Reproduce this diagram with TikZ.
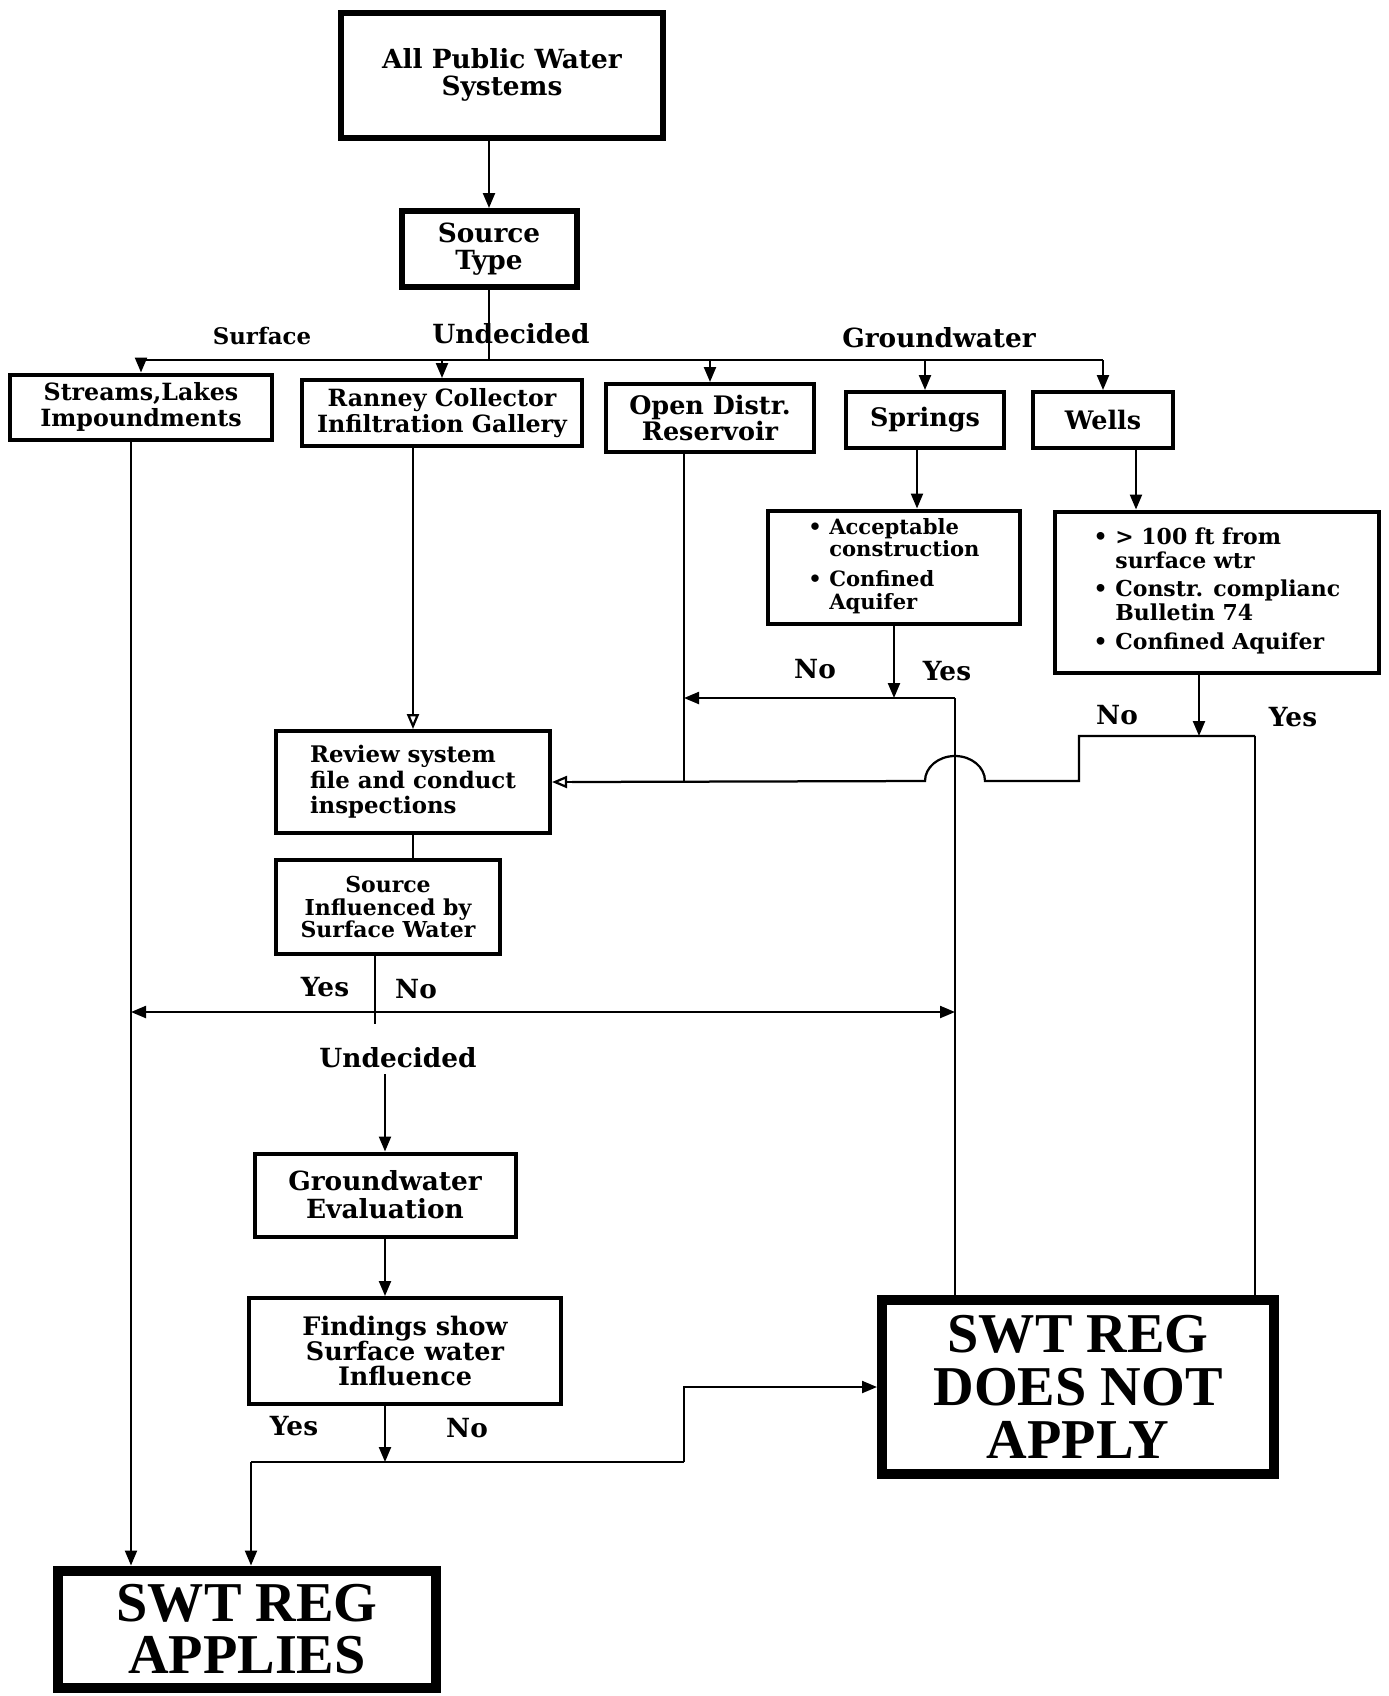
\documentclass[tikz,border=0pt]{standalone}
\usepackage{fontspec}
\setmainfont{DejaVu Serif}
\newfontfamily\regfont{Liberation Serif}
\usetikzlibrary{arrows.meta, positioning, calc}

\begin{document}
\begin{tikzpicture}[
    x=0.2mm, y=-0.2mm,
    % Plain decision box style
    box/.style={
        rectangle,
        draw=black,
        line width=0.8mm,
        fill=white,
        align=center,
        inner sep=2pt,
        font=\bfseries\fontsize{13.5}{14.5}\selectfont
    },
    % Heavier box style
    thickbox/.style={
        box,
        line width=1.2mm,
        font=\bfseries\fontsize{15}{15}\selectfont
    },
    % Outcome box style
    endbox/.style={
        rectangle,
        draw=black,
        line width=2mm,
        align=center,
        font=\regfont\bfseries\fontsize{32}{30}\selectfont
    },
    % Connector styles
    line/.style={
        line width=0.45mm,
        black
    },
    arrow/.style={
        line,
        -{Triangle[length=3mm, width=2.4mm]}
    },
    openarrow/.style={
        line,
        -{Triangle[open, length=3mm, width=2.4mm]}
    },
    % Branch label style
    lbl/.style={
        font=\bfseries\fontsize{15}{17}\selectfont
    }
]

\useasboundingbox[fill=white] (0,0) rectangle (1388,1696);

% === Top of the chart ===
\node[thickbox, minimum width=64.4mm, minimum height=25mm] (pws) at (502, 75) {All Public Water\\Systems};
\node[thickbox, minimum width=35mm, minimum height=15.2mm] (src) at (489, 249) {Source\\Type};

% === Source types ===
\node[box, minimum width=52.2mm, minimum height=13mm] (streams) at (141, 407) {Streams,Lakes\\Impoundments};
\node[box, minimum width=56mm, minimum height=13.2mm] (ranney) at (442, 413) {Ranney Collector\\Infiltration Gallery};
\node[box, minimum width=41.6mm, minimum height=13.6mm, font=\bfseries\fontsize{14.5}{14}\selectfont] (open) at (710, 418) {Open Distr.\\Reservoir};
\node[box, minimum width=31.6mm, minimum height=11.2mm, font=\bfseries\fontsize{14.5}{14}\selectfont] (springs) at (925, 420) {Springs};
\node[box, minimum width=28mm, minimum height=11.2mm, font=\bfseries\fontsize{14.5}{14}\selectfont] (wells) at (1103, 420) {Wells};

% === Groundwater criteria ===
\node[box, minimum width=50.4mm, minimum height=22.6mm, align=left, font=\bfseries\fontsize{12}{12.5}\selectfont] (spcrit) at (894, 567) {%
    \begin{tabular}{@{}l@{\ }l@{}}
    • & Acceptable\\ & construction\\[4pt]
    • & Confined\\ & Aquifer
    \end{tabular}};
\node[box, minimum width=64.8mm, minimum height=32.2mm, align=left, font=\bfseries\fontsize{12.5}{13}\selectfont] (wecrit) at (1217, 592) {%
    \begin{tabular}{@{}l@{\ }l@{}}
    • & > 100 ft from\\ & surface wtr\\[3pt]
    • & Constr. complianc\\ & Bulletin 74\\[3pt]
    • & Confined Aquifer
    \end{tabular}};

% === Review and evaluation ===
\node[box, minimum width=54.8mm, minimum height=20.4mm, align=left, font=\bfseries\fontsize{13}{14.5}\selectfont] (review) at (413, 782) {Review system\\file and conduct\\inspections};
\node[box, minimum width=44.8mm, minimum height=18.8mm, font=\bfseries\fontsize{12.5}{13}\selectfont] (influ) at (388, 907) {Source\\Influenced by\\Surface Water};
\node[lbl] (undec) at (398, 1058) {Undecided};
\node[box, minimum width=52.2mm, minimum height=16.6mm, font=\bfseries\fontsize{15}{16}\selectfont] (gweval) at (385, 1195) {Groundwater\\Evaluation};
\node[box, minimum width=62.2mm, minimum height=21.2mm, font=\bfseries\fontsize{14.5}{14.5}\selectfont] (findings) at (405, 1351) {Findings show\\Surface water\\Influence};

% === Outcomes ===
\node[endbox, minimum width=78.4mm, minimum height=34.8mm] (notapply) at (1078, 1387) {SWT REG\\DOES NOT\\APPLY};
\node[endbox, minimum width=75.4mm, minimum height=23.4mm] (applies) at (247, 1629) {SWT REG\\APPLIES};

% === Junction points ===
\coordinate (split) at (489, 360);
\coordinate (strdn) at ([xshift=-2mm]streams.south);
\coordinate (opendn) at ([xshift=-5.2mm]open.south);
\coordinate (spjoin) at (894, 698);
\coordinate (spyes) at (955, 698);
\coordinate (wjoin) at (1199, 736);
\coordinate (wno) at (1079, 736);
\coordinate (wyes) at (1255, 736);
\coordinate (hump) at (955, 781);
\coordinate (ynjoin) at (375, 1012);
\coordinate (fjoin) at (385, 1462);
\coordinate (fyes) at (251, 1462);
\coordinate (fno) at (684, 1462);

% === Arrows from the top ===
\draw[arrow] (pws.south -| src.north) -- (src.north);
\draw[line] (src.south) -- (split);
\draw[line] (split -| streams.north) -- (split -| wells.north);
\draw[arrow] (split -| streams.north) -- (streams.north);
\draw[arrow] (split -| ranney.north) -- (ranney.north);
\draw[arrow] (split -| open.north) -- (open.north);
\draw[arrow] (split -| springs.north) -- (springs.north);
\draw[arrow] (split -| wells.north) -- (wells.north);

\node[lbl, font=\bfseries\fontsize{13}{15}\selectfont] at (262, 336) {Surface};
\node[lbl] at (511, 334) {Undecided};
\node[lbl] at (939, 338) {Groundwater};

% === Springs branch ===
\draw[arrow] (springs.south -| 917, 0) -- (spcrit.north -| 917, 0);
\draw[arrow] (spcrit.south) -- (spjoin);
\draw[arrow] (spyes) -- (spyes -| opendn);
\draw[line] (spyes) -- (spyes |- notapply.north);
\node[lbl] at (815, 669) {No};
\node[lbl] at (947, 671) {Yes};

% === Wells branch ===
\draw[arrow] ([xshift=6.6mm]wells.south) -- ([xshift=6.6mm]wells.south |- wecrit.north);
\draw[arrow] (wjoin |- wecrit.south) -- (wjoin);
\draw[line] (wyes) -- (wno) -- (wno |- hump) -- ([xshift=6mm]hump)
    arc[start angle=0, end angle=180, x radius=6mm, y radius=5mm] -- ([xshift=4mm]review.east);
\draw[openarrow] ([xshift=4mm]review.east) -- (review.east);
\draw[line] (wyes) -- (wyes |- notapply.north);
\node[lbl] at (1117, 715) {No};
\node[lbl] at (1293, 717) {Yes};

% === Open reservoir and Ranney collector ===
\draw[line] (opendn) -- (opendn |- review.east);
\draw[openarrow] (review.north |- ranney.south) -- (review.north);

% === Review and surface water influence ===
\draw[line] (review.south) -- (review.south |- influ.north);
\draw[line] (ynjoin |- influ.south) -- ([yshift=-2.4mm]ynjoin);
\draw[arrow] (ynjoin) -- (ynjoin -| strdn);
\draw[arrow] (ynjoin) -- (ynjoin -| spyes);
\node[lbl] at (325, 987) {Yes};
\node[lbl] at (416, 989) {No};

% === Groundwater evaluation ===
\draw[arrow] (gweval.north |- undec.south) -- (gweval.north);
\draw[arrow] (gweval.south) -- (gweval.south |- findings.north);
\draw[arrow] (gweval.south |- findings.south) -- (fjoin);
\draw[line] (fyes) -- (fno);
\draw[arrow] (fno) -- (fno |- notapply.west) -- (notapply.west);
\draw[arrow] (fyes) -- (fyes |- applies.north);
\node[lbl] at (294, 1426) {Yes};
\node[lbl] at (467, 1428) {No};

% === Streams straight to applies ===
\draw[arrow] (strdn) -- (strdn |- applies.north);

\end{tikzpicture}
\end{document}
